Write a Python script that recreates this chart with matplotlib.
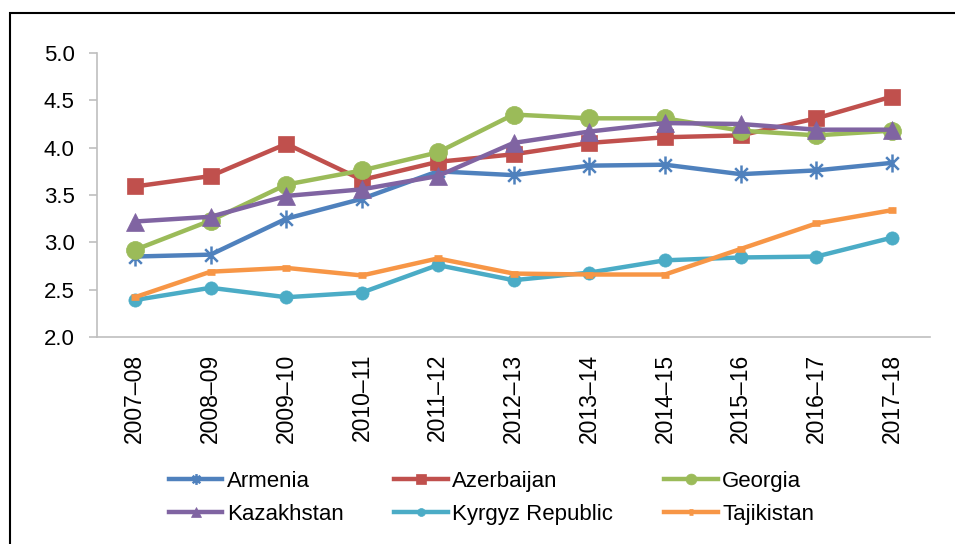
import numpy as np
import matplotlib
matplotlib.use("Agg")
import matplotlib.pyplot as plt
from matplotlib.path import Path
from matplotlib.patches import Rectangle

# Data
years = ["2007\u201308", "2008\u201309", "2009\u201310", "2010\u201311", "2011\u201312",
         "2012\u201313", "2013\u201314", "2014\u201315", "2015\u201316", "2016\u201317",
         "2017\u201318"]
armenia = [2.85, 2.87, 3.25, 3.46, 3.75, 3.71, 3.81, 3.82, 3.72, 3.76, 3.84]
azerbaijan = [3.59, 3.70, 4.04, 3.66, 3.85, 3.93, 4.05, 4.11, 4.13, 4.31, 4.54]
georgia = [2.92, 3.23, 3.61, 3.76, 3.95, 4.35, 4.31, 4.31, 4.18, 4.13, 4.18]
kazakhstan = [3.22, 3.27, 3.49, 3.56, 3.70, 4.05, 4.17, 4.26, 4.25, 4.19, 4.19]
kyrgyz = [2.39, 2.52, 2.42, 2.47, 2.76, 2.60, 2.68, 2.81, 2.84, 2.85, 3.05]
tajikistan = [2.42, 2.69, 2.73, 2.65, 2.83, 2.67, 2.66, 2.66, 2.93, 3.20, 3.34]

plt.rcParams['font.family'] = ['Liberation Sans', 'DejaVu Sans']

# Excel-style asterisk marker (x plus vertical bar)
star = Path([(-0.7, -0.7), (0.7, 0.7), (-0.7, 0.7), (0.7, -0.7), (0, -1), (0, 1)],
            [Path.MOVETO, Path.LINETO, Path.MOVETO, Path.LINETO, Path.MOVETO, Path.LINETO])

series = [
    ("Armenia", armenia, '#4F81BD', dict(marker=star, ms=13, mew=1.8)),
    ("Azerbaijan", azerbaijan, '#C0504D', dict(marker='s', ms=12, mew=0.5)),
    ("Georgia", georgia, '#9BBB59', dict(marker='o', ms=13, mew=0.5)),
    ("Kazakhstan", kazakhstan, '#8064A2', dict(marker='^', ms=13, mew=0.5)),
    ("Kyrgyz Republic", kyrgyz, '#4BACC6', dict(marker='o', ms=9.5, mew=0.5)),
    ("Tajikistan", tajikistan, '#F79646', dict(marker='_', ms=6, mew=4.8)),
]

fig = plt.figure(figsize=(9.55, 5.44), dpi=100)
ax = fig.add_axes([97 / 955, 1 - 337 / 544, (930 - 97) / 955, (337 - 53) / 544])

x = np.arange(len(years))
handles = []
for name, vals, color, mk in series:
    h, = ax.plot(x, vals, color=color, lw=3.2, label=name,
                 markerfacecolor=color, markeredgecolor=color, **mk)
    handles.append(h)

ax.set_xlim(-0.5, len(years) - 0.5)
ax.set_ylim(2.0, 5.0)
ax.set_yticks(np.arange(2.0, 5.01, 0.5))
ax.set_yticklabels([f"{v:.1f}" for v in np.arange(2.0, 5.01, 0.5)])
ax.set_xticks(x)
ax.set_xticklabels(years, rotation=90)

for s in ['top', 'right']:
    ax.spines[s].set_visible(False)
for s in ['left', 'bottom']:
    ax.spines[s].set_color('#BFBFBF')
    ax.spines[s].set_linewidth(1.2)
ax.tick_params(axis='y', length=6, color='#BFBFBF', width=1.2, pad=10, labelsize=16)
ax.tick_params(axis='x', length=0, pad=12, labelsize=16.5)

# legend filled row by row, like the original
order = [0, 3, 1, 4, 2, 5]
fig.legend([handles[i] for i in order], [series[i][0] for i in order],
           ncol=3, loc='center', bbox_to_anchor=(491.5 / 955, 1 - 498 / 544),
           frameon=False, fontsize=16, handlelength=2.4, handletextpad=0.2,
           columnspacing=2.3, labelspacing=0.55, markerscale=0.6, borderpad=0)

# outer frame (left and top edges visible)
fig.patches.append(Rectangle((10 / 955, -0.1), 1.2, 1.1 - 13 / 544,
                             transform=fig.transFigure, fill=False,
                             edgecolor='black', lw=1.5))

fig.savefig("out.png", dpi=100)
